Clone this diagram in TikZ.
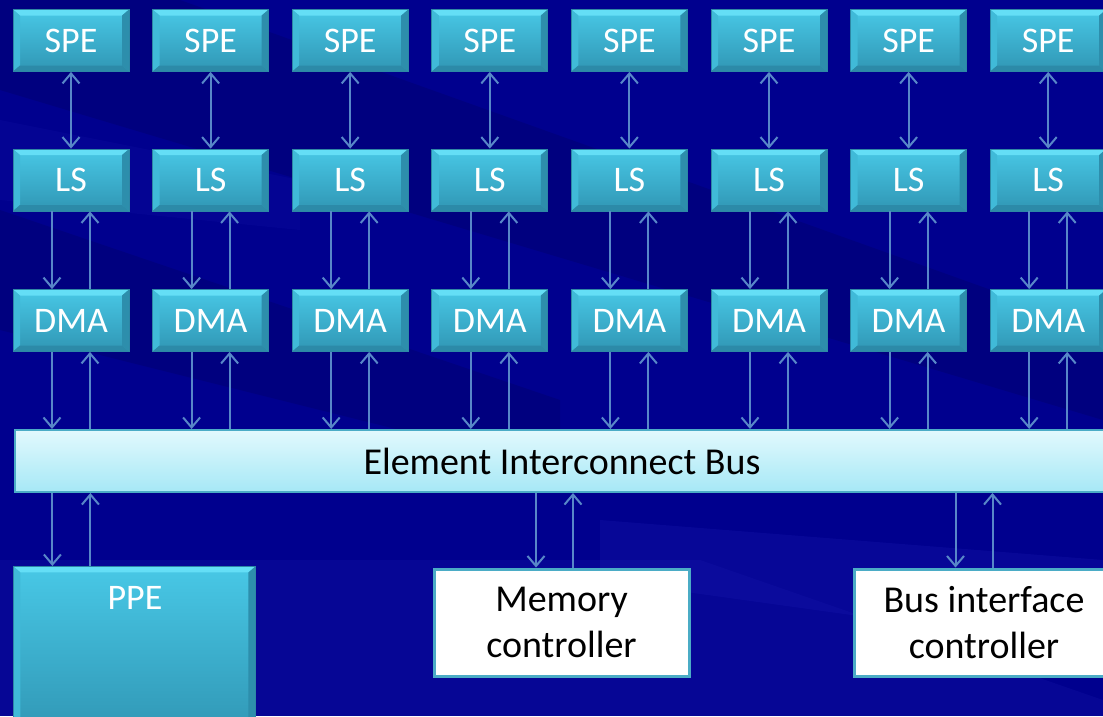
\documentclass[tikz,border=0pt]{standalone}
\usepackage{fontspec}
\setmainfont{Carlito}
\usetikzlibrary{arrows.meta}
\definecolor{bgblue}{RGB}{0,0,142}
\definecolor{bgdark}{RGB}{0,0,100}
\definecolor{bglight}{RGB}{30,30,180}
\definecolor{boxtop}{RGB}{72,200,230}
\definecolor{boxbot}{RGB}{48,150,180}
\definecolor{bevtop}{RGB}{100,222,246}
\definecolor{bevside}{RGB}{64,186,216}
\definecolor{bevdark}{RGB}{44,138,168}
\definecolor{boxedge}{RGB}{45,135,165}
\definecolor{bustop}{RGB}{226,249,253}
\definecolor{busbot}{RGB}{166,232,246}
\definecolor{busedge}{RGB}{75,172,198}
\definecolor{arrowcol}{RGB}{88,135,200}
\tikzset{
  cellbox/.style={draw=boxedge, line width=0.8pt, top color=boxtop, bottom color=boxbot,
    inner sep=0pt, text=white, font=\fontsize{36}{36}\selectfont,
    path picture={
      \fill[bevtop] (path picture bounding box.north west) -- (path picture bounding box.north east)
        -- ([xshift=-7pt,yshift=-6pt]path picture bounding box.north east)
        -- ([xshift=7pt,yshift=-6pt]path picture bounding box.north west) -- cycle;
      \fill[bevside] (path picture bounding box.north west) -- ([xshift=7pt,yshift=-6pt]path picture bounding box.north west)
        -- ([xshift=7pt,yshift=6pt]path picture bounding box.south west) -- (path picture bounding box.south west) -- cycle;
      \fill[bevdark] (path picture bounding box.south west) -- ([xshift=7pt,yshift=6pt]path picture bounding box.south west)
        -- ([xshift=-7pt,yshift=6pt]path picture bounding box.south east) -- (path picture bounding box.south east) -- cycle;
      \fill[bevdark!70!boxbot] (path picture bounding box.north east) -- ([xshift=-7pt,yshift=-6pt]path picture bounding box.north east)
        -- ([xshift=-7pt,yshift=6pt]path picture bounding box.south east) -- (path picture bounding box.south east) -- cycle;
    }},
  unit/.style={cellbox, minimum width=116pt, minimum height=62pt},
  busbox/.style={draw=busedge, line width=2pt, top color=bustop, bottom color=busbot,
    inner sep=0pt, text=black},
  ctrlbox/.style={draw=busedge, line width=3pt, fill=white, inner sep=0pt, text=black,
    font=\fontsize{38}{46}\selectfont, align=center},
  arr/.style={draw=arrowcol, line width=2pt, -{Straight Barb[length=10pt,width=17pt,line width=2pt]}},
  darr/.style={draw=arrowcol, line width=2pt, {Straight Barb[length=10pt,width=17pt,line width=2pt]}-{Straight Barb[length=10pt,width=17pt,line width=2pt]}},
}
\begin{document}
\begin{tikzpicture}[x=1pt,y=-1pt]
\useasboundingbox (0,0) rectangle (1103,716);
% background
\fill[bgblue] (0,0) rectangle (1103,716);
\fill[bgdark, opacity=0.35] (0,0) -- (180,0) -- (1103,330) -- (1103,420) -- (0,90) -- cycle;
\fill[bgdark, opacity=0.35] (0,210) -- (560,400) -- (560,470) -- (0,330) -- cycle;
\fill[bglight, opacity=0.15] (0,120) -- (300,180) -- (300,230) -- (0,200) -- cycle;
\fill[bglight, opacity=0.25] (600,520) -- (1103,560) -- (1103,650) -- (600,580) -- cycle;
\fill[bglight, opacity=0.2] (0,560) -- (700,560) -- (1103,700) -- (1103,716) -- (0,716) -- cycle;
% units
\foreach \i in {1,...,8}{
  \pgfmathsetmacro{\cx}{71+139.6*(\i-1)}
  \node[unit] (spe\i) at (\cx,40.5) {SPE};
  \node[unit] (ls\i) at (\cx,180) {LS};
  \node[unit] (dma\i) at (\cx,320.5) {DMA};
}
% bus
\node[busbox, minimum width=1100pt, minimum height=62pt, anchor=north west] (bus) at (14,429) {};
\node[font=\fontsize{38}{38}\selectfont, text=black] at (562,461) {Element Interconnect Bus};
% bottom boxes
\node[cellbox, minimum width=242pt, minimum height=170pt, anchor=north west] (ppe) at (13,566) {};
\node[text=white, font=\fontsize{36}{36}\selectfont, anchor=base] at (135,609) {PPE};
\node[ctrlbox, minimum width=255pt, minimum height=107pt, anchor=north west] (mem) at (432.5,567.5) {Memory\\controller};
\node[ctrlbox, minimum width=260pt, minimum height=107pt, anchor=north west] (bic) at (852.5,567.5) {Bus interface\\controller};
% connectors
\foreach \i in {1,...,8}{
  \draw[darr] (spe\i.south) -- (ls\i.north);
  \draw[arr] ([xshift=-19pt]ls\i.south) -- ([xshift=-19pt]dma\i.north);
  \draw[arr] ([xshift=19pt]dma\i.north) -- ([xshift=19pt]ls\i.south);
  \draw[arr] ([xshift=-19pt]dma\i.south) -- ([xshift=-19pt]dma\i.south |- bus.north);
  \draw[arr] ([xshift=19pt]dma\i.south |- bus.north) -- ([xshift=19pt]dma\i.south);
}
\draw[arr] ([xshift=-82pt]ppe.north |- bus.south) -- ([xshift=-82pt]ppe.north);
\draw[arr] ([xshift=-44pt]ppe.north) -- ([xshift=-44pt]ppe.north |- bus.south);
\draw[arr] ([xshift=-25.5pt]mem.north |- bus.south) -- ([xshift=-25.5pt]mem.north);
\draw[arr] ([xshift=11.5pt]mem.north) -- ([xshift=11.5pt]mem.north |- bus.south);
\draw[arr] ([xshift=-28.5pt]bic.north |- bus.south) -- ([xshift=-28.5pt]bic.north);
\draw[arr] ([xshift=8.5pt]bic.north) -- ([xshift=8.5pt]bic.north |- bus.south);
\end{tikzpicture}
\end{document}
